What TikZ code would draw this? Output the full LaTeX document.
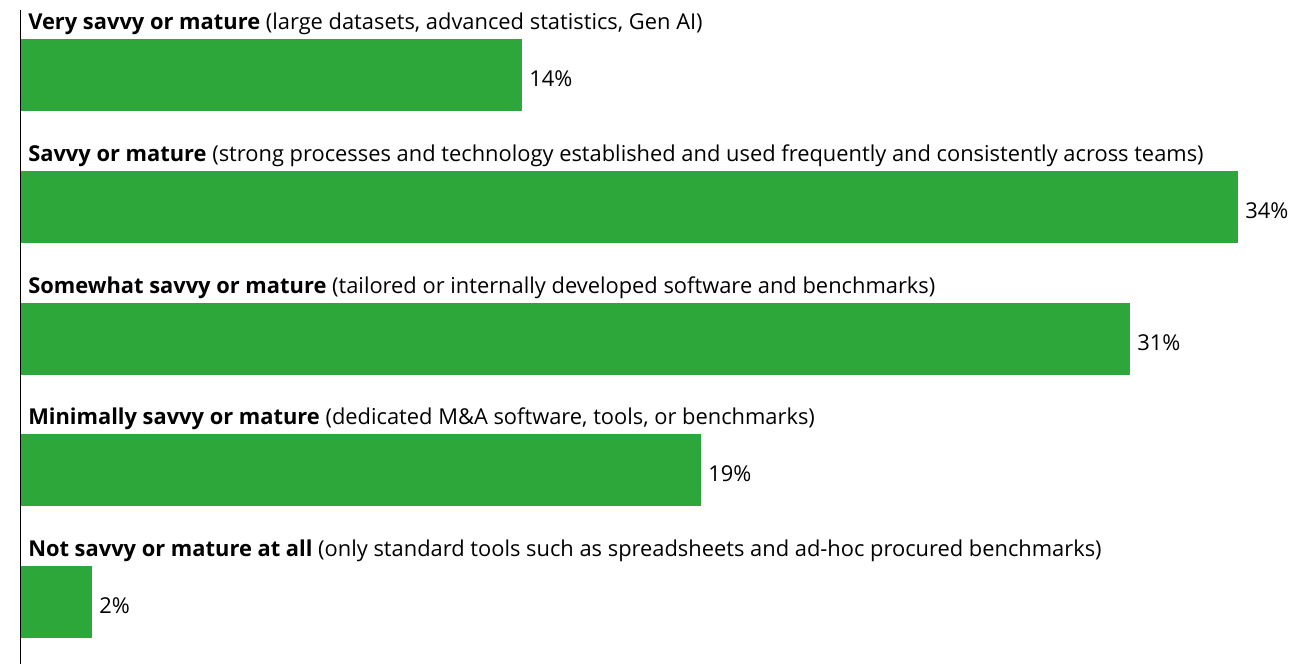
\documentclass[tikz,border=0pt]{standalone}
\usepackage{fontspec}
\setmainfont{Open Sans}
\definecolor{bargreen}{RGB}{45,167,58}
\begin{document}
\begin{tikzpicture}[x=0.75pt,y=-0.75pt,
  bar/.style={fill=bargreen,draw=none},
  lbl/.style={anchor=base west,inner sep=0pt,font=\fontsize{16.4}{19}\selectfont},
  pct/.style={anchor=base west,inner sep=0pt,font=\fontsize{16.4}{19}\selectfont}]
\useasboundingbox (0,0) rectangle (1297,664);
\coordinate (axtop) at (20.5,10);
\coordinate (axbot) at (20.5,664);
\draw[line width=1.1pt] (axtop) -- (axbot);
\def\barrow#1#2#3#4#5{%
  \node[lbl] (l#1) at (28,#2-10) {#3};
  \fill[bar] (21,#2) rectangle (#4,#2+72);
  \node[pct] (p#1) at (#4+7,#2+47) {#5};
}
\barrow{1}{39}{\textbf{Very savvy or mature} (large datasets, advanced statistics, Gen AI)}{522}{14\%}
\barrow{2}{171}{\textbf{Savvy or mature} (strong processes and technology established and used frequently and consistently across teams)}{1238}{34\%}
\barrow{3}{303}{\textbf{Somewhat savvy or mature} (tailored or internally developed software and benchmarks)}{1130}{31\%}
\barrow{4}{434}{\textbf{Minimally savvy or mature} (dedicated M\&A software, tools, or benchmarks)}{701}{19\%}
\barrow{5}{566}{\textbf{Not savvy or mature at all} (only standard tools such as spreadsheets and ad-hoc procured benchmarks)}{92}{2\%}
\end{tikzpicture}
\end{document}
